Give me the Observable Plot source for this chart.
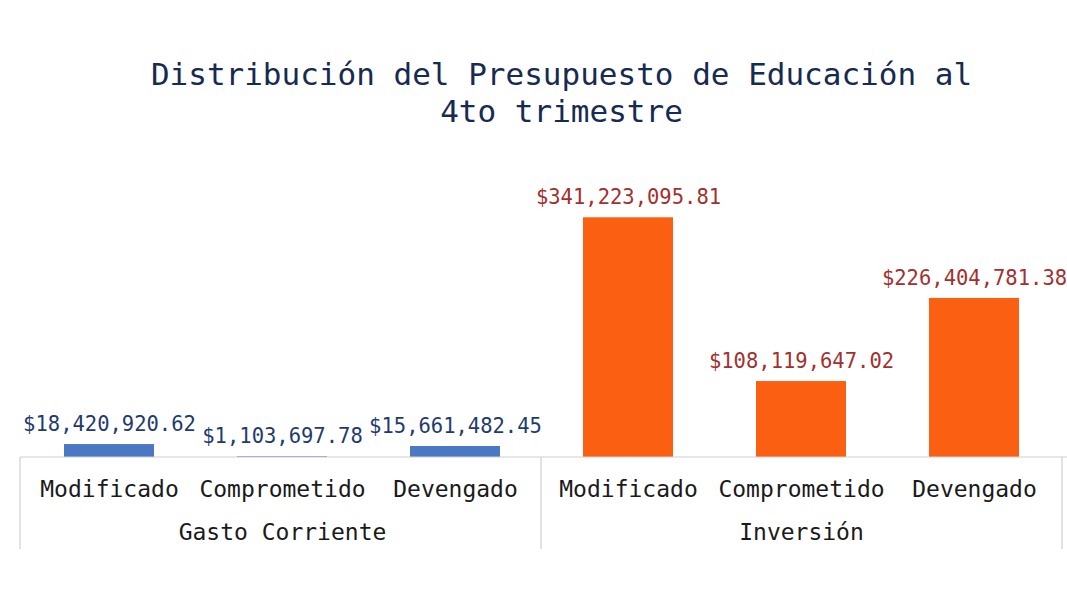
<!DOCTYPE html>
<html>
<head>
<meta charset="utf-8">
<script src="https://cdn.jsdelivr.net/npm/d3@7"></script>
<script src="https://cdn.jsdelivr.net/npm/@observablehq/plot@0.6"></script>
<style>
  html, body { margin: 0; padding: 0; background: #fff; overflow: hidden; }
  #wrap { position: relative; width: 1067px; height: 592px; }
  #title {
    position: absolute; left: 0; top: 56px; width: 1067px; box-sizing: border-box;
    padding-left: 56px; text-align: center;
    font-family: "DejaVu Sans Mono", monospace; font-size: 31px; line-height: 37px;
    color: #172a50; font-weight: normal;
  }
  #chart { position: absolute; left: 0; top: 0; }
</style>
</head>
<body>
<div id="wrap">
  <div id="chart"></div>
  <div id="title">Distribución del Presupuesto de Educación al<br>4to trimestre</div>
</div>
<script>
const groups = ["Gasto Corriente", "Inversión"];
const concepts = ["Modificado", "Comprometido", "Devengado"];
const gastoCorriente = [18420920.62, 1103697.78, 15661482.45];
const inversion = [341223095.81, 108119647.02, 226404781.38];
const barColors = ["#4a78c2", "#fa5f12"];
const labelColors = ["#1f3b6e", "#a3302e"];

const seriesByGroup = [gastoCorriente, inversion];
const data = [];
groups.forEach((g, gi) => concepts.forEach((c, ci) => {
  data.push({group: g, concept: c, key: g + "|" + c, value: seriesByGroup[gi][ci]});
}));
const keys = data.map(d => d.key);
const groupLabels = groups.map(g => ({group: g, key: g + "|" + concepts[1]}));

const fmt = v => "$" + d3.format(",.2f")(v);
const colorOf = g => barColors[groups.indexOf(g)];
const labelColorOf = g => labelColors[groups.indexOf(g)];

const plot = Plot.plot({
  width: 1067,
  height: 592,
  marginLeft: 20,
  marginRight: 5,
  marginTop: 176,
  marginBottom: 135,
  style: {fontFamily: "DejaVu Sans Mono, monospace", background: "transparent", overflow: "visible"},
  x: {domain: keys, paddingInner: 0.48, paddingOuter: 0.24, axis: null},
  y: {domain: [0, 4e8], axis: null},
  marks: [
    Plot.barY(data, {x: "key", y: "value", fill: d => colorOf(d.group)}),
    Plot.text(data, {x: "key", y: "value", dy: -20, text: d => fmt(d.value),
      fill: d => labelColorOf(d.group), fontSize: 20.5, lineAnchor: "middle"}),
    Plot.text(data, {x: "key", y: 0, dy: 32, text: "concept", fill: "#1a1a1a",
      fontSize: 23, lineAnchor: "middle"}),
    Plot.text(groupLabels, {x: "key", y: 0, dy: 75, text: "group", fill: "#1a1a1a",
      fontSize: 23, lineAnchor: "middle"})
  ]
});

// axis box lines derived from the scales
const xs = plot.scale("x");
const ys = plot.scale("y");
const svg = d3.select(plot.tagName === "svg" ? plot : plot.querySelector("svg"));
const y0 = ys.apply(0);
const x0 = xs.range[0];
const x1 = xs.range[1];
const groupW = (x1 - x0) / groups.length;
const g = svg.append("g").attr("stroke", "#cfcfcf").attr("stroke-width", 1.2);
g.append("line").attr("x1", x0).attr("x2", x1 + 10).attr("y1", y0).attr("y2", y0);
groups.forEach((_, i) => {
  const xv = x0 + i * groupW;
  g.append("line").attr("x1", xv).attr("x2", xv).attr("y1", y0).attr("y2", y0 + 92);
});
g.append("line").attr("x1", x1).attr("x2", x1).attr("y1", y0).attr("y2", y0 + 92);

document.getElementById("chart").appendChild(plot);
</script>
</body>
</html>
